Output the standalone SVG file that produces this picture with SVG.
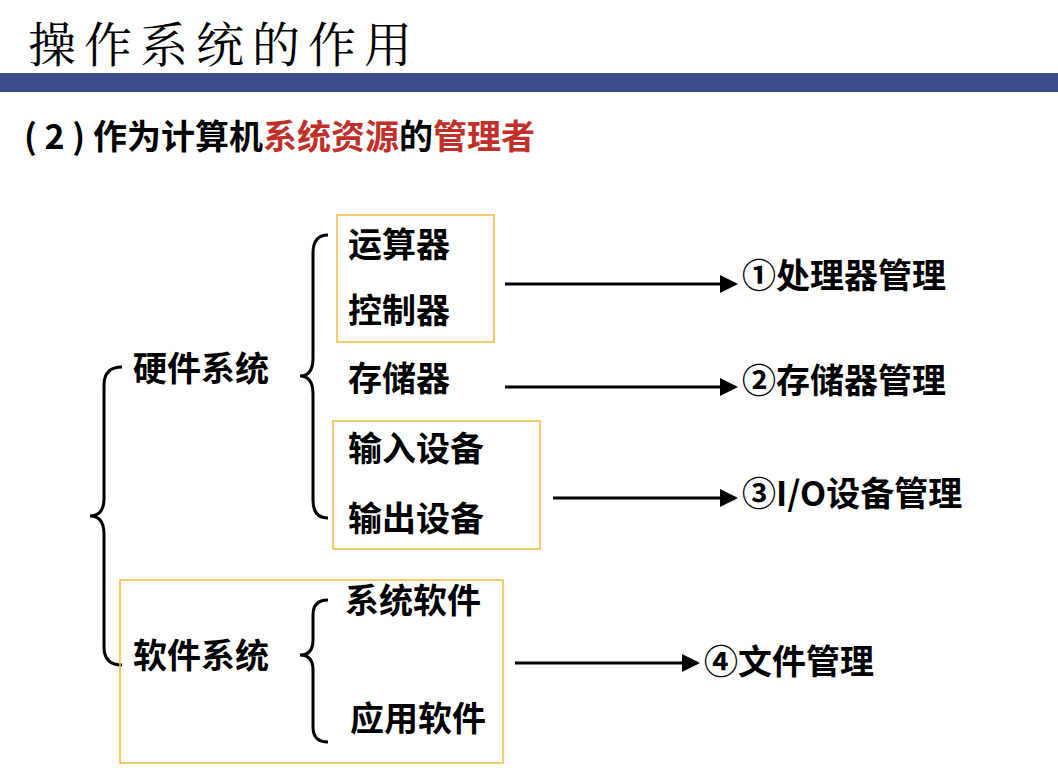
<svg xmlns="http://www.w3.org/2000/svg" width="1058" height="778" viewBox="0 0 1058 778">
<style>
.t{font-family:"Noto Sans CJK SC","Noto Sans",sans-serif;font-weight:bold;font-size:34px;fill:#000}
.b{fill:none;stroke:#000;stroke-width:3}
.box{fill:none;stroke:#f5b93a;stroke-width:1.5}
.a{stroke:#000;stroke-width:3;marker-end:url(#ah)}
</style>
<defs><marker id="ah" markerWidth="6" markerHeight="6" refX="5" refY="3" orient="auto" markerUnits="strokeWidth"><path d="M0,0 L6,3 L0,6 Z" fill="#000"/></marker></defs>
<rect width="1058" height="778" fill="#fff"/>
<text x="28" y="62" font-family="'Noto Serif CJK SC','Noto Sans CJK SC',serif" font-size="48" letter-spacing="8">操作系统的作用</text>
<rect x="0" y="73" width="1058" height="19" fill="#3a4d8a"/>
<text x="24" y="149" class="t" font-size="33">( 2 ) 作为计算机<tspan fill="#c0302a">系统资源</tspan>的<tspan fill="#c0302a">管理者</tspan></text>
<g id="braces">
<path class="b" d="M122,367 Q104,367 104,385 L104,498 Q104,516 90,516 Q104,516 104,534 L104,647 Q104,665 122,665"/>
<path class="b" d="M328,235 Q313,235 313,253 L313,358 Q313,376 300,376 Q313,376 313,394 L313,500 Q313,518 328,518"/>
<path class="b" d="M328,600 Q313,600 313,615 L313,640 Q313,655 300,655 Q313,655 313,670 L313,727 Q313,742 328,742"/>
</g>
<g id="boxes">
<rect class="box" x="337" y="215" width="157" height="127"/>
<rect class="box" x="333" y="421" width="207" height="128"/>
<rect class="box" x="120" y="580" width="383" height="183"/>
</g>
<g id="hw"><text class="t" x="133" y="381">硬件系统</text></g>
<g id="sw"><text class="t" x="133" y="668">软件系统</text></g>
<g id="n1"><text class="t" x="348" y="257">运算器</text></g>
<g id="n2"><text class="t" x="348" y="323">控制器</text></g>
<g id="n3"><text class="t" x="348" y="391">存储器</text></g>
<g id="n4"><text class="t" x="348" y="461">输入设备</text></g>
<g id="n5"><text class="t" x="348" y="531">输出设备</text></g>
<g id="n6"><text class="t" x="345" y="613">系统软件</text></g>
<g id="n7"><text class="t" x="350" y="731">应用软件</text></g>
<g id="r1"><text class="t" x="742" y="288">①处理器管理</text></g>
<g id="r2"><text class="t" x="742" y="393">②存储器管理</text></g>
<g id="r3"><text class="t" x="742" y="506">③I/O设备管理</text></g>
<g id="r4"><text class="t" x="704" y="674">④文件管理</text></g>
<g id="connectors">
<line class="a" x1="505" y1="284" x2="735" y2="284"/>
<line class="a" x1="505" y1="387" x2="735" y2="387"/>
<line class="a" x1="553" y1="498" x2="735" y2="498"/>
<line class="a" x1="515" y1="663" x2="697" y2="663"/>
</g>
</svg>
